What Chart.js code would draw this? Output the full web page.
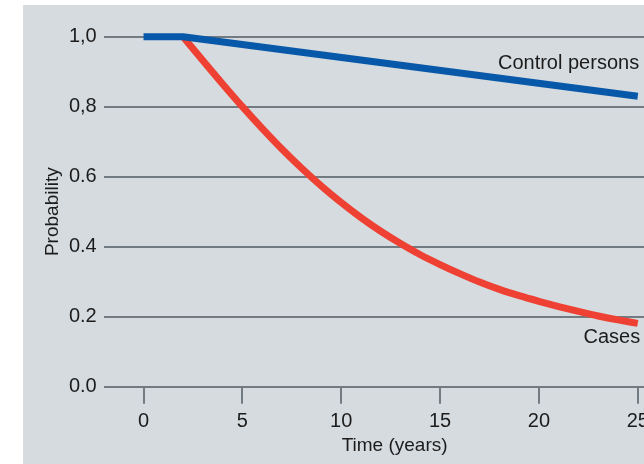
<!DOCTYPE html>
<html>
<head>
<meta charset="utf-8">
<script src="https://cdn.jsdelivr.net/npm/chart.js@4/dist/chart.umd.min.js"></script>
<style>
  html, body { margin: 0; padding: 0; background: #ffffff; overflow: hidden; width: 644px; height: 464px; }
  #wrap { position: absolute; left: 23px; top: 5px; width: 700px; height: 459px; background: #d6dbdf; }
  canvas { display: block; }
</style>
</head>
<body>
<div id="wrap"><canvas id="c" width="700" height="459"></canvas></div>
<script>
// ---- data ----
const controlYears  = [0, 2, 25];
const controlValues = [1.0, 1.0, 0.83];

const caseYears  = [2, 3, 4, 5, 6, 7, 8, 9, 10, 11, 12, 13, 14, 15, 16, 17, 18, 19, 20, 21, 22, 23, 24, 25];
const caseValues = [1.0, 0.932, 0.865, 0.800, 0.738, 0.679, 0.624, 0.573, 0.526, 0.483, 0.444, 0.409,
                    0.377, 0.349, 0.323, 0.299, 0.278, 0.260, 0.244, 0.229, 0.215, 0.202, 0.191, 0.181];

const xTickValues = [0, 5, 10, 15, 20, 25];
const yTickValues = [0, 0.2, 0.4, 0.6, 0.8, 1.0];
const yTickLabels = ['0.0', '0.2', '0.4', '0.6', '0,8', '1,0'];

const seriesNames = ['Control persons', 'Cases'];
const xTitle = 'Time (years)';
const yTitle = 'Probability';

// ---- chart ----
const FONT = 'Liberation Sans, Arial, Helvetica, sans-serif';
const GRID = '#737b82';
const TEXT = '#1c1c1c';

const toXY = (xs, ys) => xs.map((x, i) => ({ x: x, y: ys[i] }));

const seriesLabels = {
  id: 'seriesLabels',
  afterDatasetsDraw(chart) {
    const { ctx, scales: { x, y } } = chart;
    ctx.save();
    ctx.font = '20px ' + FONT;
    ctx.fillStyle = TEXT;
    ctx.textAlign = 'right';
    ctx.textBaseline = 'alphabetic';
    ctx.fillText(seriesNames[0], x.getPixelForValue(25.07), y.getPixelForValue(0.907));
    ctx.fillText(seriesNames[1], x.getPixelForValue(25.12), y.getPixelForValue(0.1257));
    ctx.restore();
  }
};

new Chart(document.getElementById('c'), {
  type: 'line',
  data: {
    datasets: [
      {
        label: seriesNames[0],
        data: toXY(controlYears, controlValues),
        borderColor: '#0758a8',
        borderWidth: 7,
        borderCapStyle: 'butt',
        borderJoinStyle: 'round',
        pointRadius: 0,
        tension: 0,
        clip: false
      },
      {
        label: seriesNames[1],
        data: toXY(caseYears, caseValues),
        borderColor: '#ee4134',
        borderWidth: 7,
        borderCapStyle: 'butt',
        pointRadius: 0,
        cubicInterpolationMode: 'monotone',
        clip: false
      }
    ]
  },
  options: {
    responsive: false,
    animation: false,
    events: [],
    layout: { padding: { left: 0, top: 31.7, right: 37.8, bottom: 0 } },
    plugins: { legend: { display: false }, tooltip: { enabled: false } },
    scales: {
      x: {
        type: 'linear',
        min: -2,
        max: 27.4,
        afterBuildTicks: (s) => { s.ticks = xTickValues.map(v => ({ value: v })); },
        afterFit: (s) => { s.height = 77.3; },
        border: { display: false },
        grid: {
          drawOnChartArea: false,
          drawTicks: true,
          tickLength: 17,
          color: GRID,
          lineWidth: 2
        },
        ticks: {
          padding: 6,
          maxRotation: 0,
          color: TEXT,
          font: { family: FONT, size: 20 },
          callback: (v) => String(v)
        },
        title: {
          display: true,
          text: xTitle,
          color: TEXT,
          font: { family: FONT, size: 19 },
          padding: { top: 0, bottom: 6.6 }
        }
      },
      y: {
        type: 'linear',
        min: 0,
        max: 1,
        afterBuildTicks: (s) => { s.ticks = yTickValues.map(v => ({ value: v })); },
        afterFit: (s) => { s.width = 81; },
        border: { display: false },
        grid: {
          drawTicks: false,
          color: GRID,
          lineWidth: 2
        },
        ticks: {
          padding: 7.3,
          color: TEXT,
          font: { family: FONT, size: 20 },
          callback: (v, i) => yTickLabels[i]
        },
        title: {
          display: true,
          text: yTitle,
          color: TEXT,
          font: { family: FONT, size: 19 },
          padding: { top: 18, bottom: 0 }
        }
      }
    }
  },
  plugins: [seriesLabels]
});
</script>
</body>
</html>
